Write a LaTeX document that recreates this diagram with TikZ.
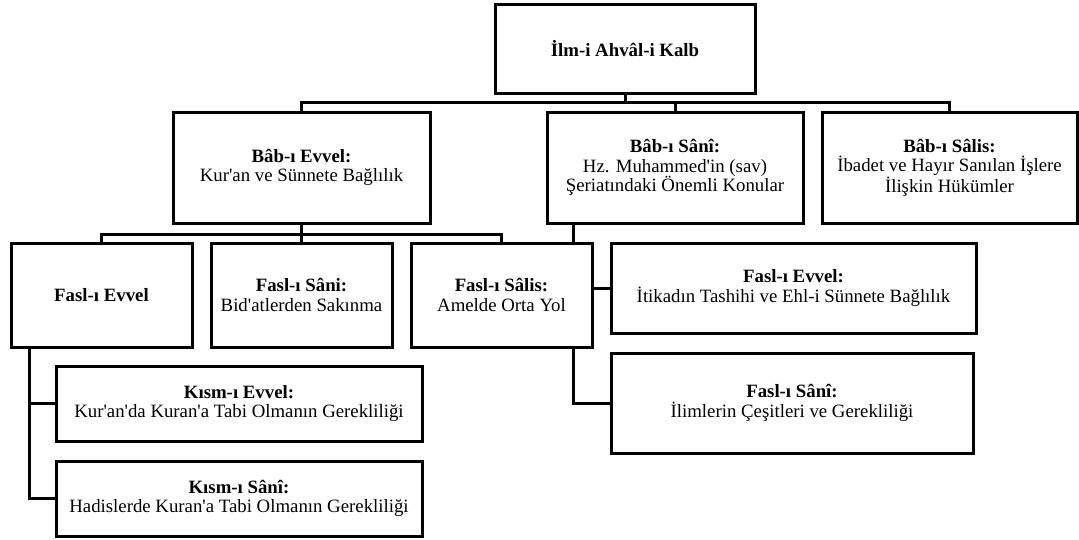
\documentclass[tikz,border=0pt]{standalone}
\usepackage{fontspec}
\setmainfont{Liberation Serif}
\newcommand\qt{\textquotesingle}
\begin{document}
\begin{tikzpicture}[x=1pt,y=-1pt,
  box/.style={draw, line width=3pt, align=center, inner sep=2pt,
    font=\fontsize{18.8}{19.5}\selectfont},
  conn/.style={line width=3pt}]
\useasboundingbox (0,0) rectangle (1079,539);
% level 0
\node[box, minimum width=260pt, minimum height=89pt] (top) at (625,48.5) {\textbf{İlm-i Ahvâl-i Kalb}};
% level 1
\node[box, minimum width=257pt, minimum height=111pt] (babevvel) at (301.5,167.5) {\textbf{Bâb-ı Evvel:}\\Kur\qt an ve Sünnete Bağlılık};
\node[box, minimum width=256pt, minimum height=111pt] (babsani) at (675,167.5) {\textbf{Bâb-ı Sânî:}\\Hz. Muhammed\qt in (sav)\\Şeriatındaki Önemli Konular};
\node[box, minimum width=255pt, minimum height=111pt] (babsalis) at (949.5,167.5) {\textbf{Bâb-ı Sâlis:}\\İbadet ve Hayır Sanılan İşlere\\İlişkin Hükümler};
% level 2
\node[box, minimum width=181pt, minimum height=104pt] (faslevvel) at (101.5,295) {\textbf{Fasl-ı Evvel}};
\node[box, minimum width=181pt, minimum height=104pt] (faslsani) at (301.5,295) {\textbf{Fasl-ı Sâni:}\\Bid\qt atlerden Sakınma};
\node[box, minimum width=181pt, minimum height=104pt] (faslsalis) at (501.5,295) {\textbf{Fasl-ı Sâlis:}\\Amelde Orta Yol};
\node[box, minimum width=365pt, minimum height=90pt] (fevvelR) at (793.5,288) {\textbf{Fasl-ı Evvel:}\\İtikadın Tashihi ve Ehl-i Sünnete Bağlılık};
\node[box, minimum width=362pt, minimum height=100pt] (fsaniR) at (792,403) {\textbf{Fasl-ı Sânî:}\\İlimlerin Çeşitleri ve Gerekliliği};
% level 3
\node[box, minimum width=366pt, minimum height=75pt] (kevvel) at (239,403.5) {\textbf{Kısm-ı Evvel:}\\Kur\qt an\qt da Kuran\qt a Tabi Olmanın Gerekliliği};
\node[box, minimum width=366pt, minimum height=75pt] (ksani) at (239,498.5) {\textbf{Kısm-ı Sânî:}\\Hadislerde Kuran\qt a Tabi Olmanın Gerekliliği};
% helper coordinates
\coordinate (b1) at (0,102);
\coordinate (b2) at (0,234);
\coordinate (s) at (573,0);
\coordinate (l) at (29,0);
% connectors
\draw[conn] (top.south) -- (top.south |- b1);
\draw[conn] (babevvel.north) -- (babevvel.north |- b1) -- (babsalis.north |- b1) -- (babsalis.north);
\draw[conn] (babsani.north |- b1) -- (babsani.north);
\draw[conn] (faslevvel.north) -- (faslevvel.north |- b2) -- (faslsalis.north |- b2) -- (faslsalis.north);
\draw[conn] (babevvel.south) -- (faslsani.north);
\draw[conn] (babsani.south -| s) -- (faslsalis.north -| s);
\draw[conn] (faslsalis.east |- fevvelR.west) -- (fevvelR.west);
\draw[conn] (faslsalis.south -| s) |- (fsaniR.west);
\draw[conn] (faslevvel.south -| l) |- (ksani.west);
\draw[conn] (l |- kevvel.west) -- (kevvel.west);
\end{tikzpicture}
\end{document}
